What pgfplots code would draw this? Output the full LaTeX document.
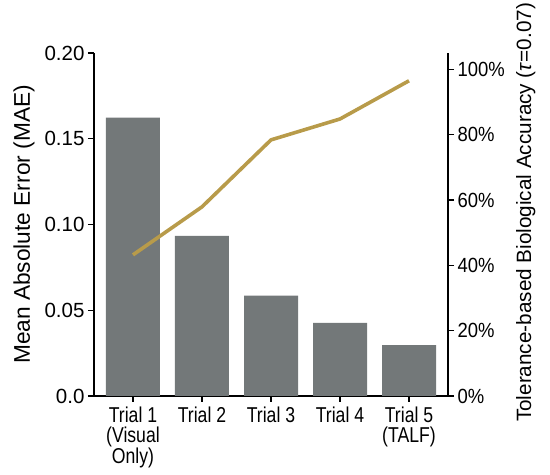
\documentclass[border=0pt]{standalone}
\usepackage{pgfplots}
\pgfplotsset{compat=1.18}
\usepackage{fontspec}
\setmainfont{Liberation Sans}
\newfontfamily\narrowfont{Liberation Sans}[FakeStretch=0.9]
\newfontfamily\condfont{Liberation Sans}[FakeStretch=0.82]
\usetikzlibrary{calc}
\definecolor{bargray}{RGB}{115,120,121}
\definecolor{gold}{RGB}{184,155,74}
\begin{document}
\begin{tikzpicture}
\begin{axis}[
  name=main,
  scale only axis, width=354pt, height=343pt,
  xmin=-0.565, xmax=4.565, ymin=0, ymax=0.2,
  axis x line*=bottom, axis y line*=left,
  axis line style={line width=1.2pt, black},
  ybar, bar width=54pt,
  xtick={0,1,2,3,4},
  xticklabels={{Trial 1\\(Visual\\Only)}, Trial 2, Trial 3, Trial 4, {Trial 5\\(TALF)}},
  xticklabel style={align=center, font=\condfont\fontsize{21.5}{20.5}\selectfont, anchor=north, yshift=-1pt},
  ytick={0,0.05,0.1,0.15,0.2},
  yticklabels={0.0,0.05,0.10,0.15,0.20},
  yticklabel style={font=\fontsize{20.5}{22}\selectfont},
  tick align=outside, major tick length=6pt,
  tick style={line width=1.2pt, black},
  /pgf/number format/assume math mode=true,
  ylabel={Mean Absolute Error (MAE)},
  ylabel style={font=\fontsize{22.7}{24}\selectfont, at={(axis description cs:-0.198,0.5)}, anchor=center, rotate=0},
  clip=false,
]
\addplot[fill=bargray, draw=none] coordinates {(0,0.1623) (1,0.0933) (2,0.0585) (3,0.0426) (4,0.0296)};
\end{axis}
\begin{axis}[
  scale only axis, width=354pt, height=343pt,
  xmin=-0.565, xmax=4.565, ymin=0, ymax=105,
  axis x line=none, axis y line*=right,
  axis line style={line width=1.2pt, black},
  ytick={0,20,40,60,80,100},
  yticklabel={\pgfmathprintnumber{\tick}\%},
  yticklabel style={font=\narrowfont\fontsize{20.5}{22}\selectfont},
  tick align=outside, major tick length=6pt,
  tick style={line width=1.2pt, black},
  /pgf/number format/assume math mode=true,
  ylabel={Tolerance-based Biological Accuracy (\textit{τ}=0.07)},
  ylabel style={font=\fontsize{20.7}{22}\selectfont, at={(axis description cs:1.22,0.535)}, anchor=center, rotate=0},
  clip=false,
]
\addplot[gold, line width=3.6pt, line join=round, mark=none] coordinates {(0,43.2) (1,57.9) (2,78.4) (3,84.8) (4,96.5)};
\end{axis}
\pgfresetboundingbox
\path ($(main.south west)+(-94pt,-79pt)$) rectangle ($(main.north east)+(102pt,53pt)$);
\end{tikzpicture}
\end{document}
